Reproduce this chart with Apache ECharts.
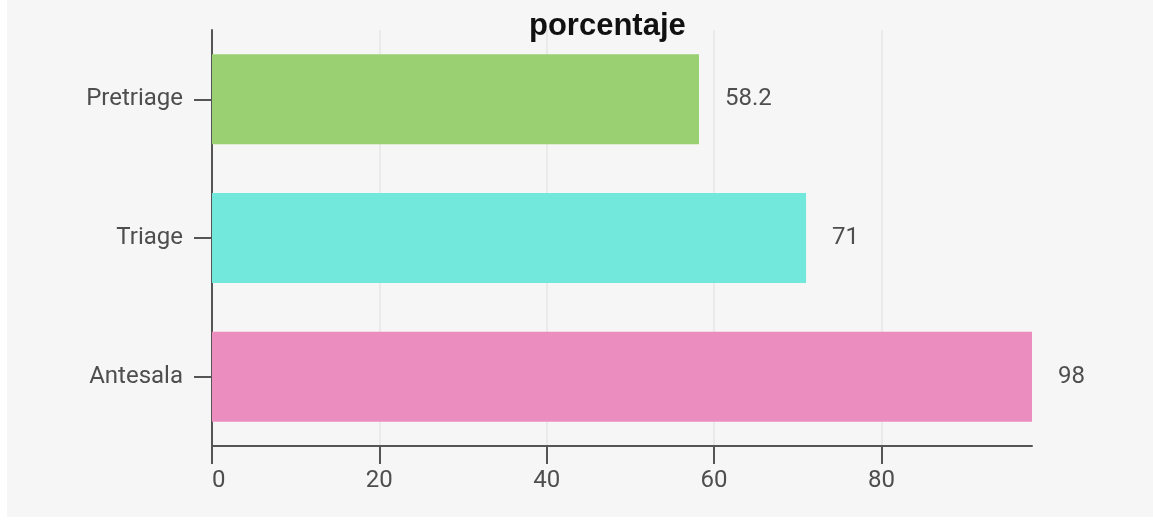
<!DOCTYPE html>
<html>
<head>
<meta charset="utf-8">
<script src="https://cdn.jsdelivr.net/npm/echarts@6/dist/echarts.min.js"></script>
<style>
html,body{margin:0;padding:0;background:#ffffff;}
#c{position:absolute;left:7px;top:0;width:1146px;height:517px;}
</style>
</head>
<body>
<div id="c"></div>
<script>
const titleText = 'porcentaje';
const categories = ['Antesala', 'Triage', 'Pretriage'];
const values = [98, 71, 58.2];
const barColors = ['#ec8dc0', '#72e8dc', '#9ad071'];
const xTicks = [0, 20, 40, 60, 80];

const chart = echarts.init(document.getElementById('c'));
chart.setOption({
  backgroundColor: '#f6f6f6',
  animation: false,
  title: {
    text: titleText,
    left: 517,
    top: 6,
    textStyle: { fontFamily: 'Liberation Sans, Arial, sans-serif', fontWeight: 'bold', fontSize: 31, color: '#111' }
  },
  grid: { left: 205, right: 121, top: 30, bottom: 71 },
  xAxis: {
    type: 'value',
    min: 0,
    max: 98,
    interval: 20,
    axisLine: { show: true, lineStyle: { color: '#555', width: 2 } },
    axisTick: { show: true, length: 18, customValues: xTicks, lineStyle: { color: '#555', width: 2 } },
    axisLabel: { customValues: xTicks, margin: 23, fontFamily: 'Roboto', fontSize: 24, color: '#4e4e4e', alignMinLabel: 'left' },
    splitLine: { show: true, lineStyle: { color: '#e6e6e6', width: 1.5 } }
  },
  yAxis: {
    type: 'category',
    data: categories,
    axisLine: { show: true, lineStyle: { color: '#555', width: 2 } },
    axisTick: { show: true, length: 18, alignWithLabel: true, lineStyle: { color: '#555', width: 2 } },
    axisLabel: { margin: 29, padding: [7, 0, 0, 0], fontFamily: 'Roboto', fontSize: 24, color: '#4e4e4e' }
  },
  series: [{
    type: 'bar',
    data: values.map((v, i) => ({ value: v, itemStyle: { color: barColors[i] } })),
    barWidth: 90,
    label: { show: true, position: 'right', distance: 26, padding: [7, 0, 0, 0], fontFamily: 'Roboto', fontSize: 24, color: '#4e4e4e' }
  }]
});
</script>
</body>
</html>
